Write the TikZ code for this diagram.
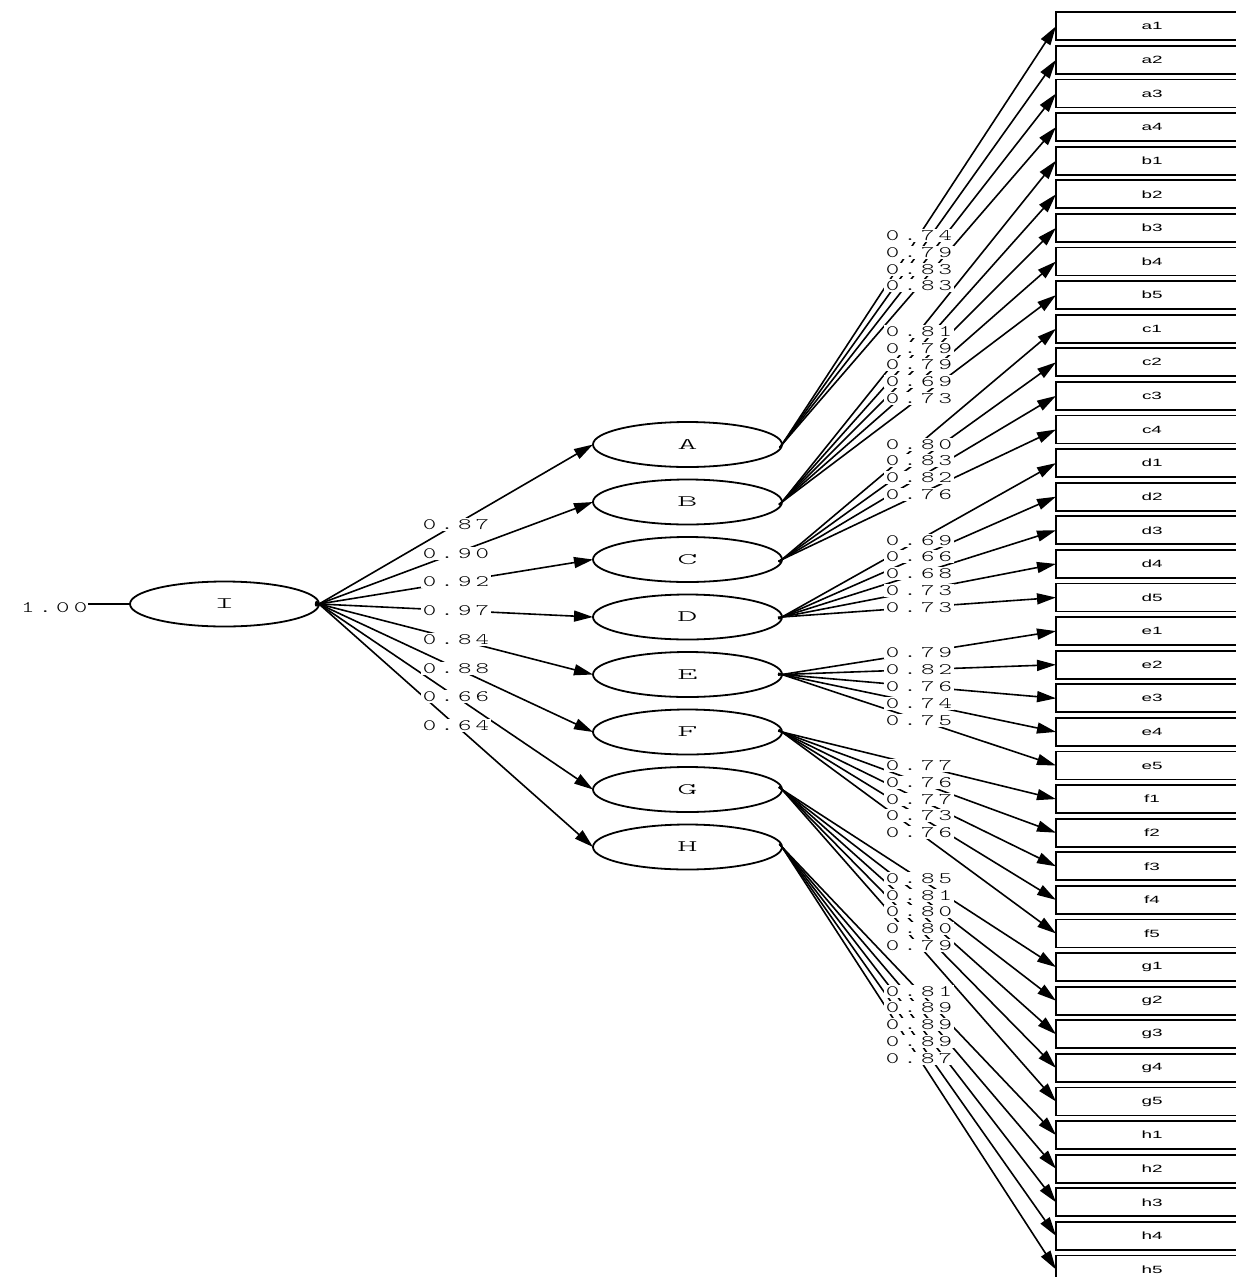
\documentclass[tikz,border=0pt]{standalone}
\usepackage{fontspec}
\usetikzlibrary{arrows.meta,shapes.geometric}
\newfontfamily\lblfont[LetterSpace=26,FakeStretch=1.6]{lmmonolt10-regular.otf}
\newfontfamily\latfont[FakeStretch=2.4]{lmmonolt10-regular.otf}
\newfontfamily\obsfont[FakeStretch=1.8]{Liberation Sans}
\begin{document}
\begin{tikzpicture}[x=1pt,y=-1pt,
  lat/.style={draw, ellipse, line width=1.8pt, minimum width=189pt, minimum height=45pt,
    inner sep=0pt, outer sep=0pt, font=\latfont\fontsize{16}{16}\selectfont},
  obs/.style={draw, rectangle, line width=1.7pt, minimum width=192pt, minimum height=28pt,
    inner sep=0pt, outer sep=0pt, anchor=west, font=\obsfont\fontsize{10.5}{10.5}\selectfont},
  conn/.style={line width=1.6pt, -{Triangle[length=19pt,width=11pt]}, shorten <=-4pt},
  ld/.style={fill=white, inner sep=1.5pt, text height=10pt, text depth=0pt,
    font=\lblfont\fontsize{16}{16}\selectfont}]
\clip (0,0) rectangle (1236,1277);
% latent variables
\node[lat] (I) at (224.5,604) {I};
\foreach \n [count=\k from 0] in {A,B,C,D,E,F,G,H}
  \node[lat] (\n) at (687.5,444.5+57.5*\k) {\n};
% observed variables
\foreach \o [count=\k from 0] in {a1,a2,a3,a4,b1,b2,b3,b4,b5,c1,c2,c3,c4,d1,d2,d3,d4,d5,
  e1,e2,e3,e4,e5,f1,f2,f3,f4,f5,g1,g2,g3,g4,g5,h1,h2,h3,h4,h5}
  \node[obs] (\o) at (1056,26.3+33.6*\k) {\o};
% second-order paths
\foreach \l in {A,B,C,D,E,F,G,H}
  \draw[conn] (I.east) -- (\l.west);
% first-order paths
\foreach \l/\o in {A/a1,A/a2,A/a3,A/a4,B/b1,B/b2,B/b3,B/b4,B/b5,C/c1,C/c2,C/c3,C/c4,
  D/d1,D/d2,D/d3,D/d4,D/d5,E/e1,E/e2,E/e3,E/e4,E/e5,F/f1,F/f2,F/f3,F/f4,F/f5,
  G/g1,G/g2,G/g3,G/g4,G/g5,H/h1,H/h2,H/h3,H/h4,H/h5}
  \draw[conn] (\l.east) -- (\o.west);
% error of I
\coordinate (e0) at (88,604);
\draw[line width=1.6pt] (e0) -- (I.west);
\node[ld, fill=none, anchor=east] (one) at (89,607) {1.00};
% labels
\foreach \l/\v in {A/0.87,B/0.90,C/0.92,D/0.97,E/0.84,F/0.88,G/0.66,H/0.64}
  \path (I.east) -- (\l.west) node[midway, ld] {\v};
\foreach \l/\o/\v in {A/a1/0.74,A/a2/0.79,A/a3/0.83,A/a4/0.83,
  B/b1/0.81,B/b2/0.79,B/b3/0.79,B/b4/0.69,B/b5/0.73,
  C/c1/0.80,C/c2/0.83,C/c3/0.82,C/c4/0.76,
  D/d1/0.69,D/d2/0.66,D/d3/0.68,D/d4/0.73,D/d5/0.73,
  E/e1/0.79,E/e2/0.82,E/e3/0.76,E/e4/0.74,E/e5/0.75,
  F/f1/0.77,F/f2/0.76,F/f3/0.77,F/f4/0.73,F/f5/0.76,
  G/g1/0.85,G/g2/0.81,G/g3/0.80,G/g4/0.80,G/g5/0.79,
  H/h1/0.81,H/h2/0.89,H/h3/0.89,H/h4/0.89,H/h5/0.87}
  \path (\l.east) -- (\o.west) node[midway, ld] {\v};
\end{tikzpicture}
\end{document}
